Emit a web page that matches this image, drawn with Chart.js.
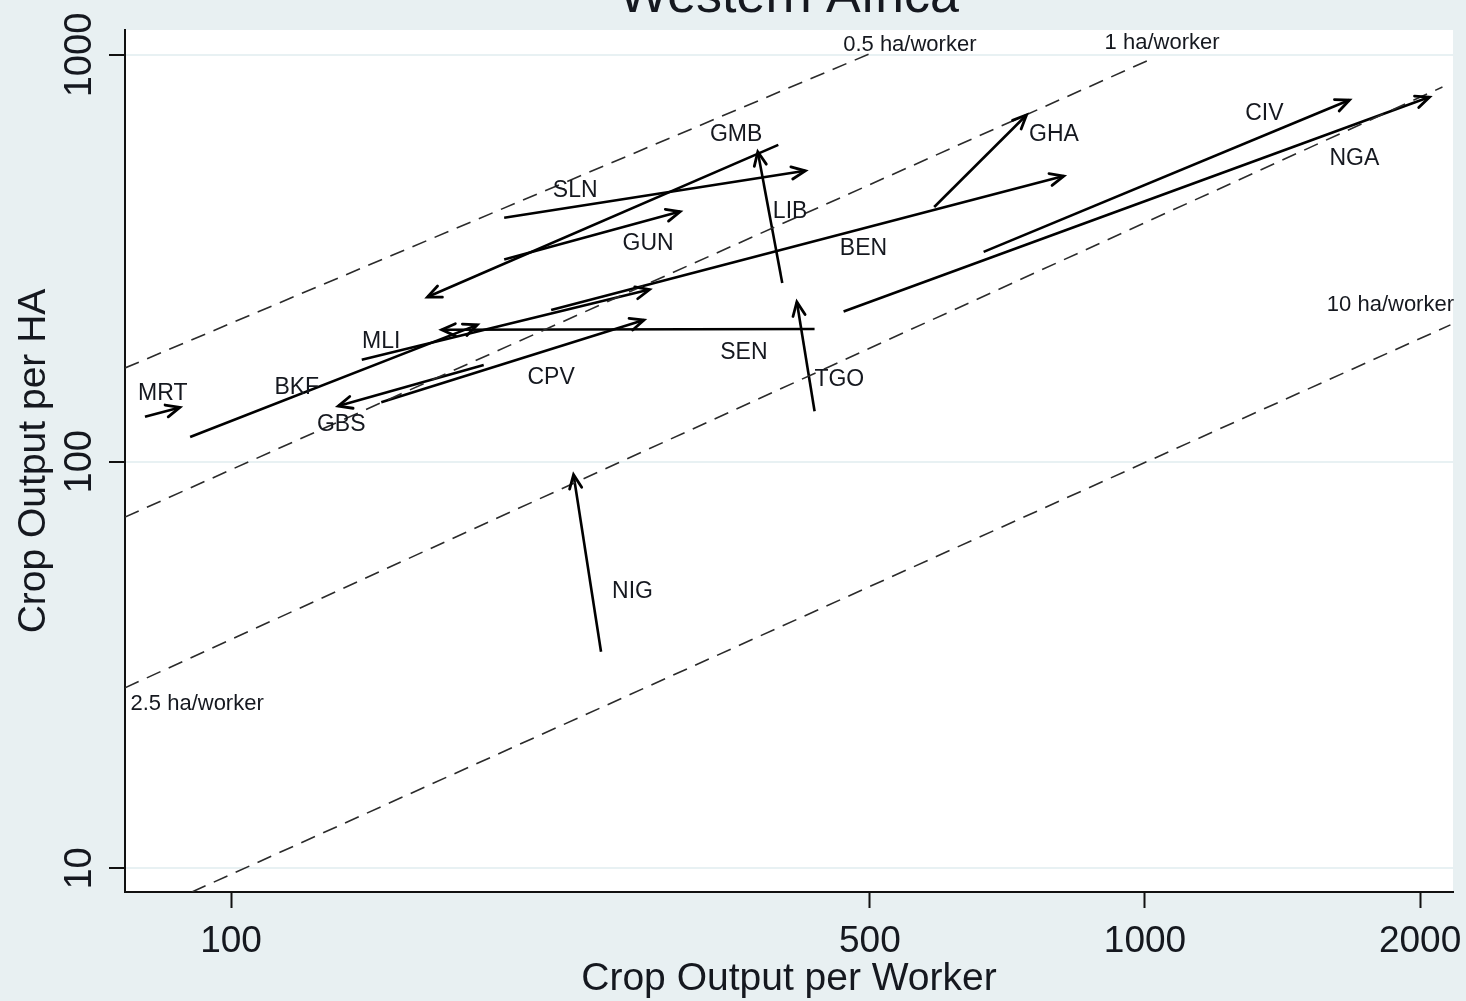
<!DOCTYPE html>
<html lang="en">
<head>
<meta charset="UTF-8">
<title>Western Africa</title>
<style>
html, body { margin: 0; padding: 0; background: rgb(232,240,242); }
#wrap { width: 1466px; height: 1001px; }
</style>
</head>
<body>
<div id="wrap"><canvas id="myChart"></canvas></div>

<script src="https://cdn.jsdelivr.net/npm/chart.js"></script>
<script>
// arrows: start -> end (crop output per worker, crop output per HA)
const countries = ['MRT','BKF','MLI','GBS','CPV','SEN','TGO','NIG','GUN','SLN','GMB','LIB','BEN','GHA','CIV','NGA'];
const workerStart = [80.5, 90.2, 139, 189, 146, 435, 435, 254, 199, 199, 397, 401, 224, 588, 666, 468];
const workerEnd   = [87.9, 186, 287, 131, 283, 170, 416, 237, 310, 425, 164, 377, 815, 742, 1674, 2048];
const haStart     = [129, 115, 178, 173, 140, 212, 133, 34.1, 314, 398, 601, 275, 236, 423, 328, 234];
const haEnd       = [136, 217, 265, 137, 223, 211, 247, 92.9, 412, 519, 254, 578, 504, 712, 775, 788];
// where the country codes sit
const labelX = [84.2, 118, 146, 132, 224, 364, 463, 275, 286, 238, 357, 409, 492, 795, 1351, 1695];
const labelY = [149, 154, 200, 125, 163, 187, 161, 48.5, 347, 469, 643, 416, 338, 643, 724, 562];

// dashed land-per-worker lines
const isoNames = ['0.5 ha/worker', '1 ha/worker', '2.5 ha/worker', '10 ha/worker'];
const isoX0 = [76.55, 76.55, 76.55, 90.6];
const isoY0 = [170, 73.1, 27.8, 8.75];
const isoX1 = [502, 1005, 2116, 2159];
const isoY1 = [1011, 967, 834, 217];
const isoLabelX = [553, 1044, 91.8, 1856];
const isoLabelY = [1070, 1082, 25.6, 245];

const xTicks = [100, 500, 1000, 2000];
const yTicks = [10, 100, 1000];

const bg = 'rgb(232,240,242)';
const ink = '#15181f';
Chart.defaults.font.family = "'Liberation Sans', Arial, sans-serif";
Chart.defaults.color = ink;

let datasets = [];
for (let i = 0; i < isoNames.length; i++) {
    datasets.push({
        label: isoNames[i],
        data: [{x: isoX0[i], y: isoY0[i]}, {x: isoX1[i], y: isoY1[i]}],
        showLine: true,
        borderColor: '#2a2a2a',
        borderWidth: 1.6,
        borderDash: [15, 9],
        pointRadius: 0
    });
}
for (let i = 0; i < countries.length; i++) {
    datasets.push({
        label: countries[i],
        data: [{x: workerStart[i], y: haStart[i]}, {x: workerEnd[i], y: haEnd[i]}],
        showLine: true,
        borderColor: '#000',
        borderWidth: 2.6,
        pointRadius: 0,
        arrow: true
    });
}

const extras = {
    id: 'extras',
    beforeDraw(chart) {
        const {ctx, chartArea: a} = chart;
        ctx.save();
        ctx.fillStyle = bg;
        ctx.fillRect(0, 0, chart.width, chart.height);
        ctx.fillStyle = '#fff';
        ctx.fillRect(a.left, a.top, a.right - a.left, a.bottom - a.top);
        ctx.restore();
    },
    afterDatasetsDraw(chart) {
        const ctx = chart.ctx;
        const xs = chart.scales.x, ys = chart.scales.y;
        ctx.save();
        // arrow heads
        ctx.strokeStyle = '#000';
        ctx.lineWidth = 2.8;
        ctx.lineCap = 'round';
        chart.data.datasets.forEach(function(ds, i) {
            if (!ds.arrow) return;
            const pts = chart.getDatasetMeta(i).data;
            const a = pts[0], b = pts[1];
            const ang = Math.atan2(b.y - a.y, b.x - a.x);
            const len = 15, spread = 0.42;
            ctx.beginPath();
            ctx.moveTo(b.x - len * Math.cos(ang - spread), b.y - len * Math.sin(ang - spread));
            ctx.lineTo(b.x, b.y);
            ctx.lineTo(b.x - len * Math.cos(ang + spread), b.y - len * Math.sin(ang + spread));
            ctx.stroke();
        });
        // labels
        ctx.fillStyle = ink;
        ctx.textAlign = 'center';
        ctx.textBaseline = 'middle';
        ctx.font = "23px 'Liberation Sans', Arial, sans-serif";
        countries.forEach(function(c, i) {
            ctx.fillText(c, xs.getPixelForValue(labelX[i]), ys.getPixelForValue(labelY[i]) + 2);
        });
        ctx.font = "22px 'Liberation Sans', Arial, sans-serif";
        isoNames.forEach(function(n, i) {
            ctx.fillText(n, xs.getPixelForValue(isoLabelX[i]), ys.getPixelForValue(isoLabelY[i]) + 2);
        });
        ctx.restore();
    },
    afterDraw(chart) {
        const ctx = chart.ctx;
        const ys = chart.scales.y;
        ctx.save();
        ctx.fillStyle = ink;
        // title, cut off at the top like the source
        ctx.font = "52px 'Liberation Sans', Arial, sans-serif";
        ctx.textAlign = 'center';
        ctx.textBaseline = 'alphabetic';
        ctx.fillText('Western Africa', (chart.chartArea.left + chart.chartArea.right) / 2, 12);
        // rotated y tick labels
        ctx.font = "38px 'Liberation Sans', Arial, sans-serif";
        yTicks.forEach(function(v) {
            ctx.save();
            ctx.translate(91, ys.getPixelForValue(v));
            ctx.rotate(-Math.PI / 2);
            ctx.fillText(String(v), 0, 0);
            ctx.restore();
        });
        ctx.restore();
    }
};

new Chart(document.getElementById('myChart'), {
    type: 'scatter',
    data: { datasets: datasets },
    options: {
        responsive: true,
        maintainAspectRatio: false,
        animation: false,
        layout: { padding: { top: 30, right: 13, left: 0, bottom: 0 } },
        plugins: { legend: { display: false }, tooltip: { enabled: false } },
        scales: {
            x: {
                type: 'logarithmic',
                min: 76.55,
                max: 2173,
                afterBuildTicks(s) { s.ticks = xTicks.map(v => ({value: v})); },
                afterFit(s) { s.height = 109; s.paddingLeft = 0; s.paddingRight = 0; },
                ticks: {
                    autoSkip: false, maxRotation: 0, padding: 12,
                    font: { size: 37 }, color: ink,
                    callback: v => String(v)
                },
                grid: { drawOnChartArea: false, drawTicks: true, tickLength: 16, tickColor: '#111', tickWidth: 2 },
                border: { display: true, color: '#111', width: 2 },
                title: { display: true, text: 'Crop Output per Worker', font: { size: 39 }, color: ink, padding: { top: 0, bottom: -2 } }
            },
            y: {
                type: 'logarithmic',
                min: 8.75,
                max: 1152,
                afterBuildTicks(s) { s.ticks = yTicks.map(v => ({value: v})); },
                afterFit(s) { s.width = 125; s.paddingTop = 0; s.paddingBottom = 0; },
                ticks: { display: false },
                grid: { color: 'rgb(232,241,243)', lineWidth: 2, drawTicks: true, tickLength: 16, tickColor: '#111', tickWidth: 2 },
                border: { display: true, color: '#111', width: 2 },
                title: { display: true, text: 'Crop Output per HA', font: { size: 39 }, color: ink, padding: { top: 11, bottom: 0 } }
            }
        }
    },
    plugins: [extras]
});
</script>
</body>
</html>
